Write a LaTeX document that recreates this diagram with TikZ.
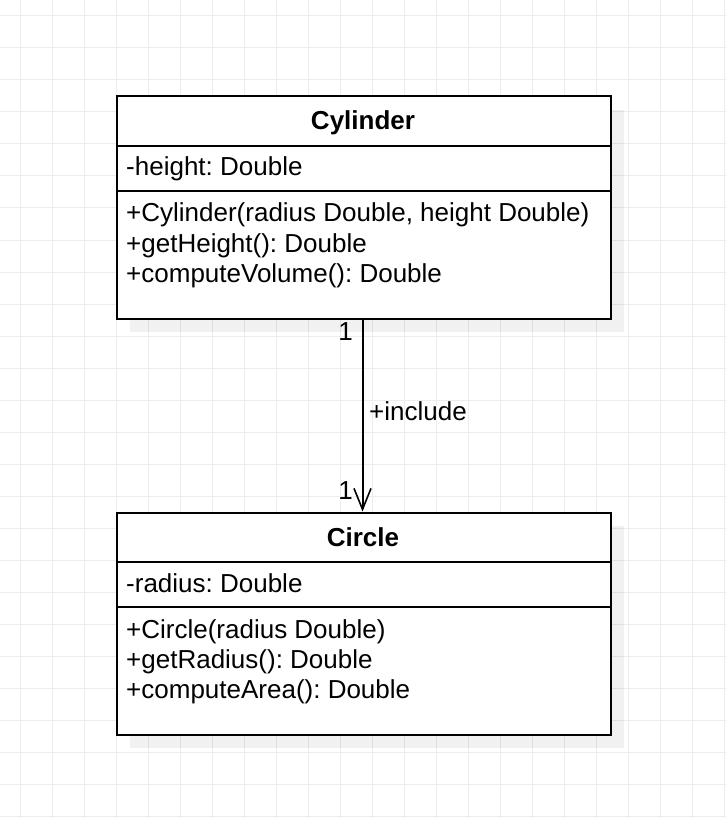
\documentclass[tikz,border=0pt]{standalone}
\usepackage{fontspec}
\setmainfont{Liberation Sans}
\usetikzlibrary{arrows.meta}
\definecolor{gridc}{HTML}{EDEDED}
\tikzset{
  umlbox/.style={draw=black, line width=2pt, fill=white, rectangle, inner sep=0pt,
    minimum width=494pt, minimum height=222pt, anchor=north west},
  umlshadow/.style={fill=black, fill opacity=0.055},
  divider/.style={draw=black, line width=2pt},
  txt/.style={anchor=base west, inner sep=0pt, font=\fontsize{26}{30}\selectfont\frenchspacing},
  ttl/.style={anchor=base, inner sep=0pt, font=\fontsize{26}{30}\selectfont\bfseries},
  assoc/.style={draw=black, line width=2pt, -{Straight Barb[length=21pt,width=17pt,line width=1.6pt]}},
}
\begin{document}
\begin{tikzpicture}[x=1pt,y=-1pt]
\useasboundingbox (0,0) rectangle (726,818);
\fill[white] (0,0) rectangle (726,818);
% grid
\foreach \gx in {20,52,...,724} \draw[gridc, line width=1pt] (\gx,0) -- (\gx,818);
\foreach \gy in {16,48,...,816} \draw[gridc, line width=1pt] (0,\gy) -- (726,\gy);
% shadows
\fill[umlshadow] (130,110) rectangle (624,332);
\fill[umlshadow] (130,526) rectangle (624,748);
% Cylinder class
\node[umlbox] (cyl) at (115.5,95.5) {};
\draw[divider] (cyl.west |- 0,146) -- (cyl.east |- 0,146);
\draw[divider] (cyl.west |- 0,191) -- (cyl.east |- 0,191);
\node[ttl] (cylname) at (363,130) {Cylinder};
\node[txt] (cylattr) at (126,176) {-height: Double};
\node[txt] (cylm1) at (126,222) {+Cylinder(radius Double, height Double)};
\node[txt] (cylm2) at (126,252) {+getHeight(): Double};
\node[txt] (cylm3) at (126,282) {+computeVolume(): Double};
% Circle class
\node[umlbox] (circ) at (115.5,511.5) {};
\draw[divider] (circ.west |- 0,562) -- (circ.east |- 0,562);
\draw[divider] (circ.west |- 0,607) -- (circ.east |- 0,607);
\node[ttl] (circname) at (363,546) {Circle};
\node[txt] (circattr) at (126,592) {-radius: Double};
\node[txt] (circm1) at (126,638) {+Circle(radius Double)};
\node[txt] (circm2) at (126,668) {+getRadius(): Double};
\node[txt] (circm3) at (126,698) {+computeArea(): Double};
% association
\draw[assoc] ([xshift=-1pt]cyl.south) -- ([xshift=-1pt]circ.north);
\node[txt, anchor=base east] (m1) at (353,340) {1};
\node[txt, anchor=base east] (m2) at (353,499) {1};
\node[txt] (lbl) at (369,420) {+include};
\end{tikzpicture}
\end{document}
